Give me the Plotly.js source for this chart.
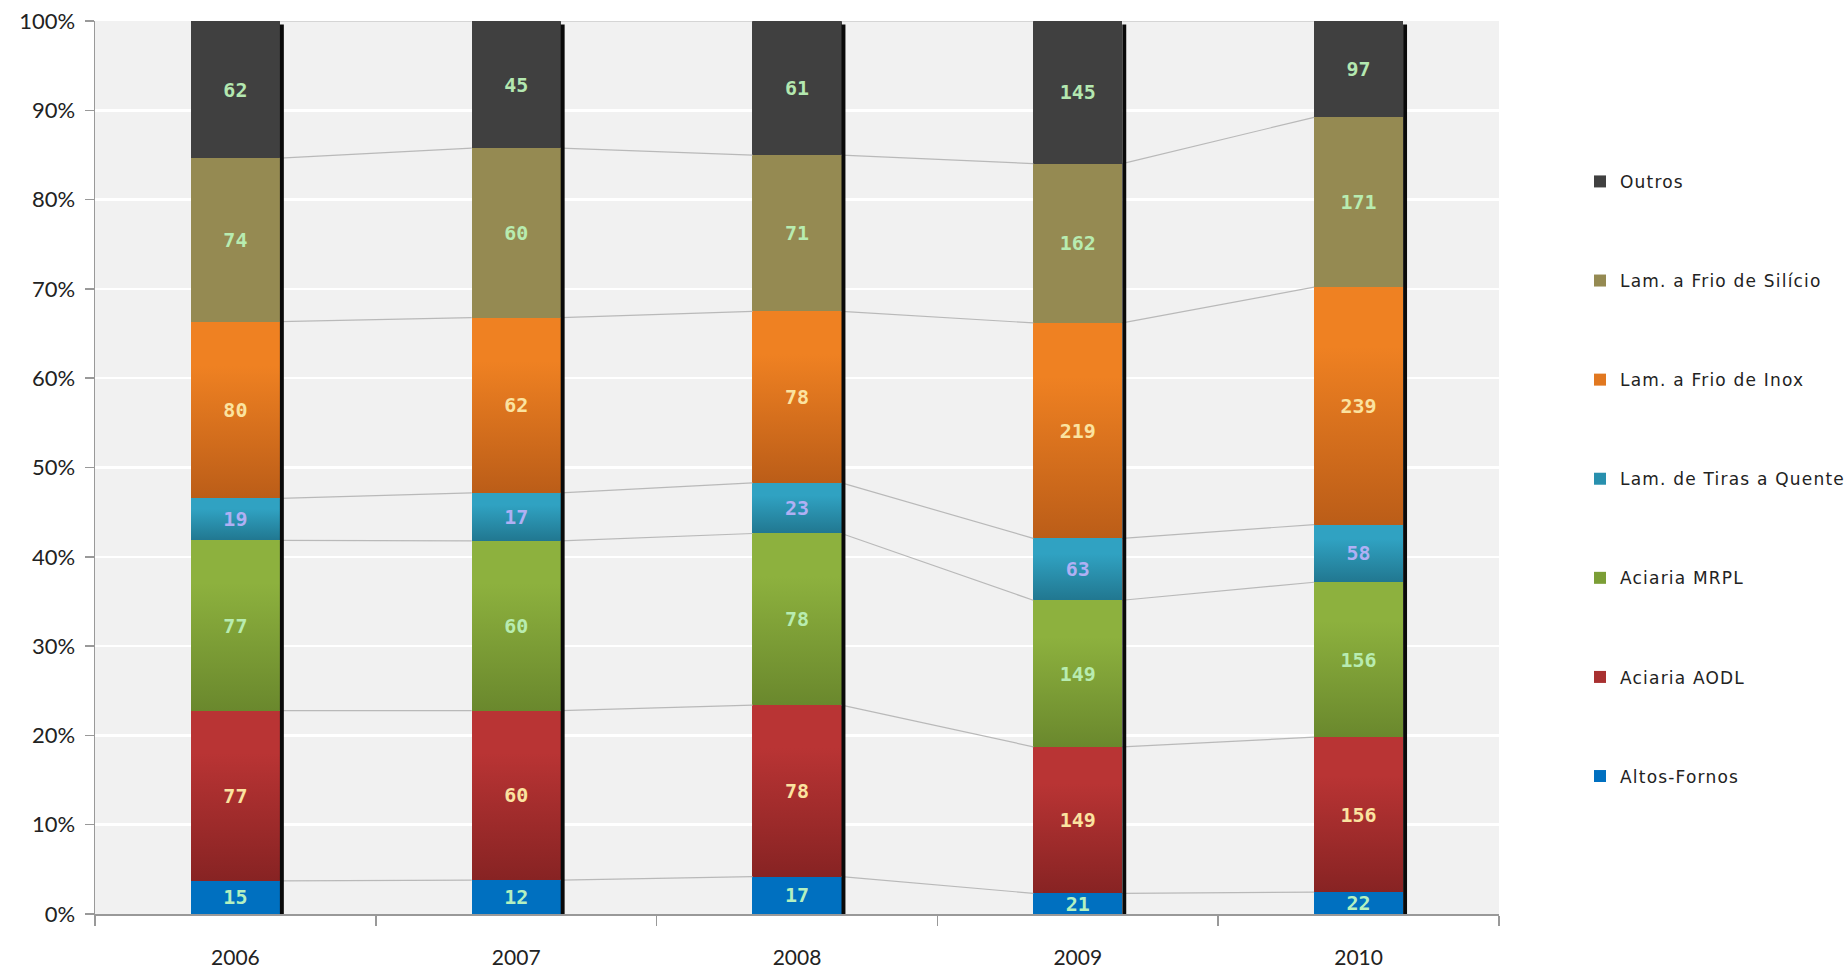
<!DOCTYPE html>
<html>
<head>
<meta charset="utf-8">
<script src="https://cdn.plot.ly/plotly-3.0.1.min.js"></script>
<style>
  html, body { margin: 0; padding: 0; background: #ffffff; }
  #chart { width: 1847px; height: 969px; }
  .legendtext { letter-spacing: 1.2px; }
</style>
</head>
<body>
<div id="chart"></div>
<script>
// ---- data ----
const categories = ['2006', '2007', '2008', '2009', '2010'];

const altosFornos = [15, 12, 17, 21, 22];
const aciariaAODL = [77, 60, 78, 149, 156];
const aciariaMRPL = [77, 60, 78, 149, 156];
const lamTirasQuente = [19, 17, 23, 63, 58];
const lamFrioInox = [80, 62, 78, 219, 239];
const lamFrioSilicio = [74, 60, 71, 162, 171];
const outros = [62, 45, 61, 145, 97];

const seriesNames = ['Altos-Fornos', 'Aciaria AODL', 'Aciaria MRPL', 'Lam. de Tiras a Quente',
                     'Lam. a Frio de Inox', 'Lam. a Frio de Silício', 'Outros'];
const seriesValues = [altosFornos, aciariaAODL, aciariaMRPL, lamTirasQuente,
                      lamFrioInox, lamFrioSilicio, outros];

const yTickValues = [0, 10, 20, 30, 40, 50, 60, 70, 80, 90, 100];
const yTickLabels = ['0%', '10%', '20%', '30%', '40%', '50%', '60%', '70%', '80%', '90%', '100%'];

// ---- styles ----
const solidColors = ['#0070c0', '#a83030', '#7b9e36', '#2890ae', '#e17820', '#958a52', '#404040'];
const gradients = [null,
  ['#b93434', '#872323'],
  ['#8db13e', '#6a882d'],
  ['#30a2c2', '#217790'],
  ['#ef8122', '#bb5d18'],
  null, null];
const labelColors = ['#b4f0c0', '#fbe3a0', '#b8ecb0', '#b0b0f4', '#fbe3a0', '#b8ecb0', '#b4e8b0'];

const barWidth = 0.317;
const nCat = categories.length;
const nSeries = seriesNames.length;

const traces = [];
seriesNames.forEach((name, s) => {
  traces.push({
    type: 'bar',
    name: name,
    x: categories,
    y: seriesValues[s],
    text: seriesValues[s].map(String),
    texttemplate: '%{text}',
    textposition: 'inside',
    insidetextanchor: 'middle',
    textangle: 0,
    constraintext: 'none',
    textfont: { family: 'DejaVu Sans Mono', size: 20, color: labelColors[s], weight: 'bold' },
    width: barWidth,
    legendgroup: 'g' + s,
    legendrank: nSeries - s,
    marker: { color: solidColors[s], line: { width: 0 } },
    hoverinfo: 'skip'
  });
});

// series connector lines (Excel-style), computed from cumulative shares
const totals = categories.map((c, i) => seriesValues.reduce((a, v) => a + v[i], 0));
const connX = [], connY = [];
let running = categories.map(() => 0);
seriesValues.forEach((vals) => {
  running = running.map((r, i) => r + vals[i]);
  const pct = running.map((r, i) => r / totals[i] * 100);
  for (let i = 0; i < nCat - 1; i++) {
    connX.push(i + barWidth / 2, i + 1 - barWidth / 2, null);
    connY.push(pct[i], pct[i + 1], null);
  }
});
traces.push({
  type: 'scatter', mode: 'lines', x: connX, y: connY, xaxis: 'x2', yaxis: 'y',
  line: { color: '#b9b9b9', width: 1.2 }, showlegend: false, hoverinfo: 'skip'
});

// dark edge on the right side of each bar
const shapes = categories.map((c, i) => ({
  type: 'rect', xref: 'x2', yref: 'y',
  x0: i + barWidth / 2, x1: i + barWidth / 2 + 0.014, y0: 0, y1: 99.6,
  fillcolor: '#0a0a0a', line: { width: 0 }, layer: 'above'
}));

const layout = {
  width: 1847, height: 969,
  margin: { l: 95, r: 348, t: 21, b: 55, autoexpand: false },
  paper_bgcolor: '#ffffff',
  plot_bgcolor: '#f1f1f1',
  barmode: 'stack',
  barnorm: 'percent',
  font: { family: 'Lato, sans-serif', color: '#222222' },
  hovermode: false,
  showlegend: true,
  xaxis: {
    type: 'category',
    range: [-0.5, nCat - 0.5],
    tickson: 'boundaries',
    ticks: 'outside', ticklen: 10, tickwidth: 1.5, tickcolor: '#999999',
    showline: true, linecolor: '#999999', linewidth: 1.5,
    showgrid: false, zeroline: false,
    tickfont: { family: 'Lato', size: 21, color: '#222222' },
    ticklabelstandoff: 24
  },
  xaxis2: {
    overlaying: 'x', range: [-0.5, nCat - 0.5], visible: false, fixedrange: true
  },
  yaxis: {
    range: [0, 100],
    tickmode: 'array',
    tickvals: yTickValues,
    ticktext: yTickLabels,
    ticks: 'outside', ticklen: 9, tickwidth: 1.5, tickcolor: '#999999',
    showline: true, linecolor: '#999999', linewidth: 1.5,
    gridcolor: '#ffffff', gridwidth: 2.5, zeroline: false,
    tickfont: { family: 'Lato', size: 22, color: '#222222' },
    ticklabelstandoff: 5
  },
  legend: {
    x: 1.0577, xanchor: 'left', y: 0.84, yanchor: 'top',
    traceorder: 'grouped',
    tracegroupgap: 74,
    font: { family: 'DejaVu Sans', size: 17, color: '#222222' },
    bgcolor: 'rgba(0,0,0,0)', borderwidth: 0
  },
  shapes: shapes
};

Plotly.newPlot('chart', traces, layout, { displayModeBar: false, staticPlot: true }).then(gd => {
  const svgNS = 'http://www.w3.org/2000/svg';
  const defs = gd.querySelector('.main-svg defs');
  gradients.forEach((g, s) => {
    if (!g) return;
    const lg = document.createElementNS(svgNS, 'linearGradient');
    lg.setAttribute('id', 'bargrad' + s);
    lg.setAttribute('x1', '0'); lg.setAttribute('y1', '0');
    lg.setAttribute('x2', '0'); lg.setAttribute('y2', '1');
    [[0, g[0]], [0.25, g[0]], [1, g[1]]].forEach(([o, c]) => {
      const st = document.createElementNS(svgNS, 'stop');
      st.setAttribute('offset', o);
      st.setAttribute('stop-color', c);
      lg.appendChild(st);
    });
    defs.appendChild(lg);
  });
  const barTraces = gd.querySelectorAll('.barlayer .trace.bars');
  barTraces.forEach((tg, s) => {
    if (!gradients[s]) return;
    tg.querySelectorAll('.point path').forEach(p => {
      p.style.fill = 'url(#bargrad' + s + ')';
    });
  });
});
</script>
</body>
</html>
